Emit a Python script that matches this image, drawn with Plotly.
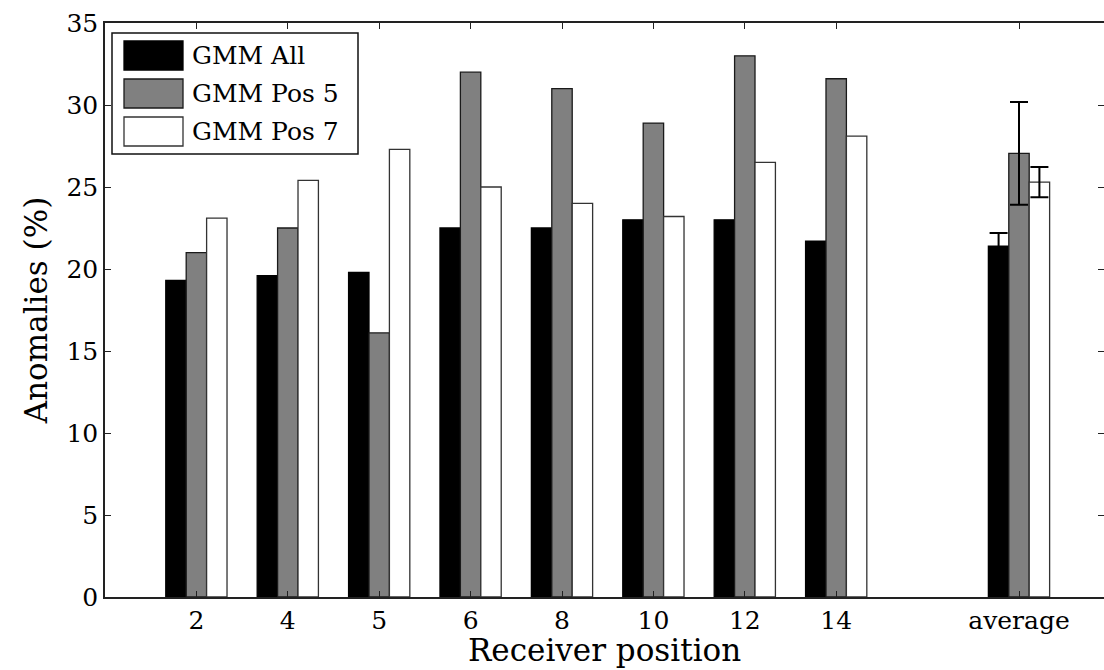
import plotly.graph_objects as go

# Receiver positions (numeric x slots) and the "average" group placed after a gap
positions = [1, 2, 3, 4, 5, 6, 7, 8]
position_labels = ["2", "4", "5", "6", "8", "10", "12", "14"]
average_slot = 10
average_label = "average"

series_names = ["GMM All", "GMM Pos 5", "GMM Pos 7"]
gmm_all = [19.3, 19.6, 19.8, 22.5, 22.5, 23.0, 23.0, 21.7]
gmm_pos5 = [21.0, 22.5, 16.1, 32.0, 31.0, 28.9, 33.0, 31.6]
gmm_pos7 = [23.1, 25.4, 27.3, 25.0, 24.0, 23.2, 26.5, 28.1]

avg_values = [21.4, 27.05, 25.3]
avg_errors = [0.8, 3.13, 0.92]

y_ticks = [0, 5, 10, 15, 20, 25, 30, 35]

fills = ["#000000", "#808080", "#ffffff"]
outlines = ["#000000", "#1a1a1a", "#333333"]

FONT = "DejaVu Serif"
TICK_SIZE = 25
TITLE_SIZE = 31
W, H = 1104, 670
ML, MR, MT, MB = 105, 0, 23, 73
PW, PH = W - ML - MR, H - MT - MB

fig = go.Figure()
for name, vals, avg, err, fc, lc in zip(series_names, [gmm_all, gmm_pos5, gmm_pos7],
                                       avg_values, avg_errors, fills, outlines):
    fig.add_trace(go.Bar(
        x=positions, y=vals, name=name, offsetgroup=name,
        marker=dict(color=fc, line=dict(color=lc, width=1.3)),
        showlegend=False,
    ))
    fig.add_trace(go.Bar(
        x=[average_slot], y=[avg], name=name, offsetgroup=name,
        marker=dict(color=fc, line=dict(color=lc, width=1.3)),
        error_y=dict(type="data", array=[err], visible=True,
                     color="#000000", thickness=2, width=9),
        showlegend=False,
    ))

# invisible trace carrying the right-hand tick axis
fig.add_trace(go.Scatter(x=[1], y=[0], yaxis="y2", mode="markers",
                         marker=dict(opacity=0), showlegend=False, hoverinfo="skip"))

fig.update_layout(
    width=W, height=H,
    margin=dict(l=ML, r=MR, t=MT, b=MB),
    paper_bgcolor="white", plot_bgcolor="white",
    barmode="group", bargap=0.33, bargroupgap=0,
    font=dict(family=FONT, size=TICK_SIZE, color="#000000"),
    xaxis=dict(
        range=[0, 10.93],
        tickmode="array",
        tickvals=positions + [average_slot],
        ticktext=position_labels + [average_label],
        ticks="inside", ticklen=6, tickcolor="#222", tickwidth=1,
        showline=True, linecolor="#222", linewidth=1.5, mirror="ticks",
        showgrid=False, zeroline=False,
        tickfont=dict(family=FONT, size=TICK_SIZE),
    ),
    yaxis=dict(
        range=[0, 35],
        tickmode="array", tickvals=y_ticks,
        ticks="inside", ticklen=6, tickcolor="#222", tickwidth=1,
        showline=True, linecolor="#222", linewidth=1.5,
        showgrid=False, zeroline=False,
        tickfont=dict(family=FONT, size=TICK_SIZE),
        title=dict(text="Anomalies (%)", font=dict(family=FONT, size=TITLE_SIZE), standoff=10),
    ),
    yaxis2=dict(
        range=[0, 35], overlaying="y", side="right",
        tickmode="array", tickvals=y_ticks, showticklabels=False,
        ticks="inside", ticklen=6, tickcolor="#222", tickwidth=1,
        showline=False, showgrid=False, zeroline=False,
    ),
)


def px_x(px):
    return (px - ML) / PW


def px_y(py):
    return (H - MB - py) / PH


# Legend box drawn in the upper-left corner of the axes
shapes = [dict(type="rect", xref="paper", yref="paper",
               x0=px_x(112), x1=px_x(358), y0=px_y(154), y1=px_y(33),
               fillcolor="white", line=dict(color="#111", width=1.5), layer="above")]
annotations = []
row_top = 41
for i, (name, fc, lc) in enumerate(zip(series_names, fills, outlines)):
    top = row_top + i * 38
    shapes.append(dict(type="rect", xref="paper", yref="paper",
                       x0=px_x(124), x1=px_x(183), y0=px_y(top + 29), y1=px_y(top),
                       fillcolor=fc, line=dict(color=lc, width=1.3), layer="above"))
    annotations.append(dict(xref="paper", yref="paper", x=px_x(190), y=px_y(top + 14.5),
                            text=name, showarrow=False, xanchor="left", yanchor="middle",
                            font=dict(family=FONT, size=TICK_SIZE, color="#000")))

# x-axis title placed just under the tick labels
annotations.append(dict(xref="paper", yref="paper", x=px_x(604), y=px_y(670),
                        text="Receiver position", showarrow=False,
                        xanchor="center", yanchor="bottom",
                        font=dict(family=FONT, size=TITLE_SIZE, color="#000")))

fig.update_layout(shapes=shapes, annotations=annotations)

fig.write_html("out.html")
